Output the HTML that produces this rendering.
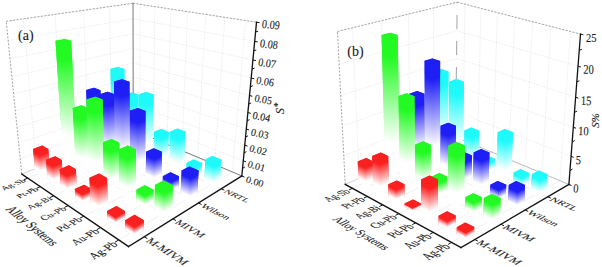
<!DOCTYPE html>
<html><head><meta charset="utf-8"><style>
html,body{margin:0;padding:0;background:#fff;}
svg{display:block;}
.gw{stroke:#e0e0e0;stroke-width:0.6;stroke-dasharray:1.5 1.2;fill:none}
.gf{stroke:#e6e6e6;stroke-width:0.6;fill:none}
.gf2{stroke:#c8c8c8;stroke-width:0.8;fill:none}
.ed{stroke:#999;stroke-width:0.9;stroke-dasharray:2 1.5;fill:none}
.bk{stroke:#6a6a6a;stroke-width:0.9;fill:none}
.bkl{stroke:#aaa;stroke-width:0.8;fill:none}
.bkd{stroke:#8a8a8a;stroke-width:0.8;fill:none;stroke-dasharray:14 12;stroke-dashoffset:-4}
.ax{stroke:#111;stroke-width:1.3;fill:none;stroke-linecap:square}
.tk{stroke:#111;stroke-width:1;fill:none}
text{font-family:"Liberation Serif",serif;fill:#1a1a1a;stroke:#1a1a1a;stroke-width:0.1;}
</style></head><body>
<svg width="602" height="267" viewBox="0 0 602 267">
<defs><linearGradient id="g1" gradientUnits="userSpaceOnUse" x1="0" y1="71.02" x2="0" y2="144.13"><stop offset="0.15" stop-color="rgb(30,250,250)"/><stop offset="0.78" stop-color="#fff"/></linearGradient><linearGradient id="g2" gradientUnits="userSpaceOnUse" x1="110.53" y1="69.00" x2="90.31" y2="134.54"><stop offset="0.15" stop-color="rgb(30,250,250)"/><stop offset="0.78" stop-color="#fff"/></linearGradient><linearGradient id="g3" gradientUnits="userSpaceOnUse" x1="117.09" y1="71.02" x2="135.51" y2="139.46"><stop offset="0.15" stop-color="rgb(30,250,250)"/><stop offset="0.78" stop-color="#fff"/></linearGradient><linearGradient id="g4" gradientUnits="userSpaceOnUse" x1="0" y1="92.49" x2="0" y2="153.75"><stop offset="0.15" stop-color="rgb(30,30,245)"/><stop offset="0.78" stop-color="#fff"/></linearGradient><linearGradient id="g5" gradientUnits="userSpaceOnUse" x1="86.20" y1="90.07" x2="66.56" y2="142.27"><stop offset="0.15" stop-color="rgb(30,30,245)"/><stop offset="0.78" stop-color="#fff"/></linearGradient><linearGradient id="g6" gradientUnits="userSpaceOnUse" x1="92.62" y1="92.49" x2="109.50" y2="149.38"><stop offset="0.15" stop-color="rgb(30,30,245)"/><stop offset="0.78" stop-color="#fff"/></linearGradient><linearGradient id="g7" gradientUnits="userSpaceOnUse" x1="0" y1="97.15" x2="0" y2="150.43"><stop offset="0.15" stop-color="rgb(30,250,250)"/><stop offset="0.78" stop-color="#fff"/></linearGradient><linearGradient id="g8" gradientUnits="userSpaceOnUse" x1="124.60" y1="94.72" x2="108.06" y2="141.32"><stop offset="0.15" stop-color="rgb(30,250,250)"/><stop offset="0.78" stop-color="#fff"/></linearGradient><linearGradient id="g9" gradientUnits="userSpaceOnUse" x1="131.46" y1="97.15" x2="147.29" y2="145.28"><stop offset="0.15" stop-color="rgb(30,250,250)"/><stop offset="0.78" stop-color="#fff"/></linearGradient><linearGradient id="g10" gradientUnits="userSpaceOnUse" x1="0" y1="42.54" x2="0" y2="164.28"><stop offset="0.15" stop-color="rgb(35,250,35)"/><stop offset="0.78" stop-color="#fff"/></linearGradient><linearGradient id="g11" gradientUnits="userSpaceOnUse" x1="55.51" y1="40.70" x2="24.91" y2="150.11"><stop offset="0.15" stop-color="rgb(35,250,35)"/><stop offset="0.78" stop-color="#fff"/></linearGradient><linearGradient id="g12" gradientUnits="userSpaceOnUse" x1="62.07" y1="42.54" x2="85.03" y2="161.22"><stop offset="0.15" stop-color="rgb(35,250,35)"/><stop offset="0.78" stop-color="#fff"/></linearGradient><linearGradient id="g13" gradientUnits="userSpaceOnUse" x1="0" y1="96.76" x2="0" y2="160.64"><stop offset="0.15" stop-color="rgb(30,30,245)"/><stop offset="0.78" stop-color="#fff"/></linearGradient><linearGradient id="g14" gradientUnits="userSpaceOnUse" x1="99.77" y1="94.20" x2="79.31" y2="148.93"><stop offset="0.15" stop-color="rgb(30,30,245)"/><stop offset="0.78" stop-color="#fff"/></linearGradient><linearGradient id="g15" gradientUnits="userSpaceOnUse" x1="106.62" y1="96.76" x2="124.95" y2="155.39"><stop offset="0.15" stop-color="rgb(30,30,245)"/><stop offset="0.78" stop-color="#fff"/></linearGradient><linearGradient id="g16" gradientUnits="userSpaceOnUse" x1="0" y1="96.87" x2="0" y2="157.11"><stop offset="0.15" stop-color="rgb(30,250,250)"/><stop offset="0.78" stop-color="#fff"/></linearGradient><linearGradient id="g17" gradientUnits="userSpaceOnUse" x1="139.13" y1="94.36" x2="120.84" y2="147.64"><stop offset="0.15" stop-color="rgb(30,250,250)"/><stop offset="0.78" stop-color="#fff"/></linearGradient><linearGradient id="g18" gradientUnits="userSpaceOnUse" x1="146.46" y1="96.87" x2="164.70" y2="150.75"><stop offset="0.15" stop-color="rgb(30,250,250)"/><stop offset="0.78" stop-color="#fff"/></linearGradient><linearGradient id="g19" gradientUnits="userSpaceOnUse" x1="0" y1="152.44" x2="0" y2="175.86"><stop offset="0.15" stop-color="rgb(250,32,32)"/><stop offset="0.78" stop-color="#fff"/></linearGradient><linearGradient id="g20" gradientUnits="userSpaceOnUse" x1="33.09" y1="148.91" x2="23.51" y2="165.17"><stop offset="0.15" stop-color="rgb(250,32,32)"/><stop offset="0.78" stop-color="#fff"/></linearGradient><linearGradient id="g21" gradientUnits="userSpaceOnUse" x1="39.08" y1="152.44" x2="46.95" y2="173.68"><stop offset="0.15" stop-color="rgb(250,32,32)"/><stop offset="0.78" stop-color="#fff"/></linearGradient><linearGradient id="g22" gradientUnits="userSpaceOnUse" x1="0" y1="110.84" x2="0" y2="171.85"><stop offset="0.15" stop-color="rgb(35,250,35)"/><stop offset="0.78" stop-color="#fff"/></linearGradient><linearGradient id="g23" gradientUnits="userSpaceOnUse" x1="72.77" y1="107.93" x2="51.34" y2="157.52"><stop offset="0.15" stop-color="rgb(35,250,35)"/><stop offset="0.78" stop-color="#fff"/></linearGradient><linearGradient id="g24" gradientUnits="userSpaceOnUse" x1="79.50" y1="110.84" x2="97.61" y2="166.94"><stop offset="0.15" stop-color="rgb(35,250,35)"/><stop offset="0.78" stop-color="#fff"/></linearGradient><linearGradient id="g25" gradientUnits="userSpaceOnUse" x1="0" y1="84.11" x2="0" y2="167.98"><stop offset="0.15" stop-color="rgb(30,30,245)"/><stop offset="0.78" stop-color="#fff"/></linearGradient><linearGradient id="g26" gradientUnits="userSpaceOnUse" x1="113.98" y1="81.62" x2="89.24" y2="155.64"><stop offset="0.15" stop-color="rgb(30,30,245)"/><stop offset="0.78" stop-color="#fff"/></linearGradient><linearGradient id="g27" gradientUnits="userSpaceOnUse" x1="121.40" y1="84.11" x2="144.37" y2="161.44"><stop offset="0.15" stop-color="rgb(30,30,245)"/><stop offset="0.78" stop-color="#fff"/></linearGradient><linearGradient id="g28" gradientUnits="userSpaceOnUse" x1="0" y1="134.92" x2="0" y2="164.22"><stop offset="0.15" stop-color="rgb(30,250,250)"/><stop offset="0.78" stop-color="#fff"/></linearGradient><linearGradient id="g29" gradientUnits="userSpaceOnUse" x1="154.14" y1="131.81" x2="143.93" y2="156.77"><stop offset="0.15" stop-color="rgb(30,250,250)"/><stop offset="0.78" stop-color="#fff"/></linearGradient><linearGradient id="g30" gradientUnits="userSpaceOnUse" x1="161.73" y1="134.92" x2="172.26" y2="159.40"><stop offset="0.15" stop-color="rgb(30,250,250)"/><stop offset="0.78" stop-color="#fff"/></linearGradient><linearGradient id="g31" gradientUnits="userSpaceOnUse" x1="0" y1="163.69" x2="0" y2="184.22"><stop offset="0.15" stop-color="rgb(250,32,32)"/><stop offset="0.78" stop-color="#fff"/></linearGradient><linearGradient id="g32" gradientUnits="userSpaceOnUse" x1="46.05" y1="159.87" x2="37.55" y2="174.10"><stop offset="0.15" stop-color="rgb(250,32,32)"/><stop offset="0.78" stop-color="#fff"/></linearGradient><linearGradient id="g33" gradientUnits="userSpaceOnUse" x1="52.44" y1="163.69" x2="59.71" y2="181.93"><stop offset="0.15" stop-color="rgb(250,32,32)"/><stop offset="0.78" stop-color="#fff"/></linearGradient><linearGradient id="g34" gradientUnits="userSpaceOnUse" x1="0" y1="102.41" x2="0" y2="179.94"><stop offset="0.15" stop-color="rgb(35,250,35)"/><stop offset="0.78" stop-color="#fff"/></linearGradient><linearGradient id="g35" gradientUnits="userSpaceOnUse" x1="86.45" y1="99.51" x2="60.59" y2="164.44"><stop offset="0.15" stop-color="rgb(35,250,35)"/><stop offset="0.78" stop-color="#fff"/></linearGradient><linearGradient id="g36" gradientUnits="userSpaceOnUse" x1="93.74" y1="102.41" x2="116.24" y2="173.69"><stop offset="0.15" stop-color="rgb(35,250,35)"/><stop offset="0.78" stop-color="#fff"/></linearGradient><linearGradient id="g37" gradientUnits="userSpaceOnUse" x1="0" y1="113.82" x2="0" y2="175.79"><stop offset="0.15" stop-color="rgb(30,30,245)"/><stop offset="0.78" stop-color="#fff"/></linearGradient><linearGradient id="g38" gradientUnits="userSpaceOnUse" x1="129.84" y1="110.81" x2="109.35" y2="163.97"><stop offset="0.15" stop-color="rgb(30,30,245)"/><stop offset="0.78" stop-color="#fff"/></linearGradient><linearGradient id="g39" gradientUnits="userSpaceOnUse" x1="137.63" y1="113.82" x2="157.65" y2="168.41"><stop offset="0.15" stop-color="rgb(30,30,245)"/><stop offset="0.78" stop-color="#fff"/></linearGradient><linearGradient id="g40" gradientUnits="userSpaceOnUse" x1="0" y1="134.76" x2="0" y2="171.79"><stop offset="0.15" stop-color="rgb(30,250,250)"/><stop offset="0.78" stop-color="#fff"/></linearGradient><linearGradient id="g41" gradientUnits="userSpaceOnUse" x1="170.44" y1="131.53" x2="157.79" y2="163.53"><stop offset="0.15" stop-color="rgb(30,250,250)"/><stop offset="0.78" stop-color="#fff"/></linearGradient><linearGradient id="g42" gradientUnits="userSpaceOnUse" x1="178.60" y1="134.76" x2="192.14" y2="165.14"><stop offset="0.15" stop-color="rgb(30,250,250)"/><stop offset="0.78" stop-color="#fff"/></linearGradient><linearGradient id="g43" gradientUnits="userSpaceOnUse" x1="0" y1="173.26" x2="0" y2="193.18"><stop offset="0.15" stop-color="rgb(250,32,32)"/><stop offset="0.78" stop-color="#fff"/></linearGradient><linearGradient id="g44" gradientUnits="userSpaceOnUse" x1="59.69" y1="169.14" x2="51.36" y2="183.00"><stop offset="0.15" stop-color="rgb(250,32,32)"/><stop offset="0.78" stop-color="#fff"/></linearGradient><linearGradient id="g45" gradientUnits="userSpaceOnUse" x1="66.54" y1="173.26" x2="73.90" y2="190.56"><stop offset="0.15" stop-color="rgb(250,32,32)"/><stop offset="0.78" stop-color="#fff"/></linearGradient><linearGradient id="g46" gradientUnits="userSpaceOnUse" x1="0" y1="145.98" x2="0" y2="188.58"><stop offset="0.15" stop-color="rgb(35,250,35)"/><stop offset="0.78" stop-color="#fff"/></linearGradient><linearGradient id="g47" gradientUnits="userSpaceOnUse" x1="102.96" y1="142.32" x2="86.76" y2="176.01"><stop offset="0.15" stop-color="rgb(35,250,35)"/><stop offset="0.78" stop-color="#fff"/></linearGradient><linearGradient id="g48" gradientUnits="userSpaceOnUse" x1="110.57" y1="145.98" x2="125.63" y2="182.80"><stop offset="0.15" stop-color="rgb(35,250,35)"/><stop offset="0.78" stop-color="#fff"/></linearGradient><linearGradient id="g49" gradientUnits="userSpaceOnUse" x1="0" y1="155.38" x2="0" y2="184.15"><stop offset="0.15" stop-color="rgb(30,30,245)"/><stop offset="0.78" stop-color="#fff"/></linearGradient><linearGradient id="g50" gradientUnits="userSpaceOnUse" x1="146.06" y1="151.68" x2="135.27" y2="175.26"><stop offset="0.15" stop-color="rgb(30,30,245)"/><stop offset="0.78" stop-color="#fff"/></linearGradient><linearGradient id="g51" gradientUnits="userSpaceOnUse" x1="154.17" y1="155.38" x2="165.09" y2="178.83"><stop offset="0.15" stop-color="rgb(30,30,245)"/><stop offset="0.78" stop-color="#fff"/></linearGradient><linearGradient id="g52" gradientUnits="userSpaceOnUse" x1="0" y1="166.72" x2="0" y2="179.86"><stop offset="0.15" stop-color="rgb(30,250,250)"/><stop offset="0.78" stop-color="#fff"/></linearGradient><linearGradient id="g53" gradientUnits="userSpaceOnUse" x1="186.62" y1="162.94" x2="181.72" y2="174.01"><stop offset="0.15" stop-color="rgb(30,250,250)"/><stop offset="0.78" stop-color="#fff"/></linearGradient><linearGradient id="g54" gradientUnits="userSpaceOnUse" x1="195.15" y1="166.72" x2="200.46" y2="176.64"><stop offset="0.15" stop-color="rgb(30,250,250)"/><stop offset="0.78" stop-color="#fff"/></linearGradient><linearGradient id="g55" gradientUnits="userSpaceOnUse" x1="0" y1="193.55" x2="0" y2="202.78"><stop offset="0.15" stop-color="rgb(250,32,32)"/><stop offset="0.78" stop-color="#fff"/></linearGradient><linearGradient id="g56" gradientUnits="userSpaceOnUse" x1="74.83" y1="188.97" x2="70.87" y2="195.29"><stop offset="0.15" stop-color="rgb(250,32,32)"/><stop offset="0.78" stop-color="#fff"/></linearGradient><linearGradient id="g57" gradientUnits="userSpaceOnUse" x1="82.13" y1="193.55" x2="85.79" y2="201.26"><stop offset="0.15" stop-color="rgb(250,32,32)"/><stop offset="0.78" stop-color="#fff"/></linearGradient><linearGradient id="g58" gradientUnits="userSpaceOnUse" x1="0" y1="153.08" x2="0" y2="197.85"><stop offset="0.15" stop-color="rgb(35,250,35)"/><stop offset="0.78" stop-color="#fff"/></linearGradient><linearGradient id="g59" gradientUnits="userSpaceOnUse" x1="119.10" y1="149.16" x2="102.02" y2="184.84"><stop offset="0.15" stop-color="rgb(35,250,35)"/><stop offset="0.78" stop-color="#fff"/></linearGradient><linearGradient id="g60" gradientUnits="userSpaceOnUse" x1="127.29" y1="153.08" x2="143.76" y2="190.79"><stop offset="0.15" stop-color="rgb(35,250,35)"/><stop offset="0.78" stop-color="#fff"/></linearGradient><linearGradient id="g61" gradientUnits="userSpaceOnUse" x1="0" y1="180.34" x2="0" y2="193.09"><stop offset="0.15" stop-color="rgb(30,30,245)"/><stop offset="0.78" stop-color="#fff"/></linearGradient><linearGradient id="g62" gradientUnits="userSpaceOnUse" x1="162.86" y1="176.13" x2="157.82" y2="186.40"><stop offset="0.15" stop-color="rgb(30,30,245)"/><stop offset="0.78" stop-color="#fff"/></linearGradient><linearGradient id="g63" gradientUnits="userSpaceOnUse" x1="171.43" y1="180.34" x2="176.65" y2="190.06"><stop offset="0.15" stop-color="rgb(30,30,245)"/><stop offset="0.78" stop-color="#fff"/></linearGradient><linearGradient id="g64" gradientUnits="userSpaceOnUse" x1="0" y1="163.51" x2="0" y2="188.50"><stop offset="0.15" stop-color="rgb(30,250,250)"/><stop offset="0.78" stop-color="#fff"/></linearGradient><linearGradient id="g65" gradientUnits="userSpaceOnUse" x1="205.41" y1="159.62" x2="196.34" y2="181.11"><stop offset="0.15" stop-color="rgb(30,250,250)"/><stop offset="0.78" stop-color="#fff"/></linearGradient><linearGradient id="g66" gradientUnits="userSpaceOnUse" x1="214.64" y1="163.51" x2="224.81" y2="181.91"><stop offset="0.15" stop-color="rgb(30,250,250)"/><stop offset="0.78" stop-color="#fff"/></linearGradient><linearGradient id="g67" gradientUnits="userSpaceOnUse" x1="0" y1="182.46" x2="0" y2="213.12"><stop offset="0.15" stop-color="rgb(250,32,32)"/><stop offset="0.78" stop-color="#fff"/></linearGradient><linearGradient id="g68" gradientUnits="userSpaceOnUse" x1="89.48" y1="177.82" x2="76.68" y2="199.93"><stop offset="0.15" stop-color="rgb(250,32,32)"/><stop offset="0.78" stop-color="#fff"/></linearGradient><linearGradient id="g69" gradientUnits="userSpaceOnUse" x1="97.49" y1="182.46" x2="109.43" y2="208.03"><stop offset="0.15" stop-color="rgb(250,32,32)"/><stop offset="0.78" stop-color="#fff"/></linearGradient><linearGradient id="g70" gradientUnits="userSpaceOnUse" x1="0" y1="194.37" x2="0" y2="207.81"><stop offset="0.15" stop-color="rgb(35,250,35)"/><stop offset="0.78" stop-color="#fff"/></linearGradient><linearGradient id="g71" gradientUnits="userSpaceOnUse" x1="136.47" y1="189.68" x2="130.89" y2="199.89"><stop offset="0.15" stop-color="rgb(35,250,35)"/><stop offset="0.78" stop-color="#fff"/></linearGradient><linearGradient id="g72" gradientUnits="userSpaceOnUse" x1="145.05" y1="194.37" x2="150.63" y2="204.75"><stop offset="0.15" stop-color="rgb(35,250,35)"/><stop offset="0.78" stop-color="#fff"/></linearGradient><linearGradient id="g73" gradientUnits="userSpaceOnUse" x1="0" y1="174.74" x2="0" y2="202.69"><stop offset="0.15" stop-color="rgb(30,30,245)"/><stop offset="0.78" stop-color="#fff"/></linearGradient><linearGradient id="g74" gradientUnits="userSpaceOnUse" x1="181.65" y1="170.43" x2="170.96" y2="193.58"><stop offset="0.15" stop-color="rgb(30,30,245)"/><stop offset="0.78" stop-color="#fff"/></linearGradient><linearGradient id="g75" gradientUnits="userSpaceOnUse" x1="191.00" y1="174.74" x2="202.46" y2="195.64"><stop offset="0.15" stop-color="rgb(30,30,245)"/><stop offset="0.78" stop-color="#fff"/></linearGradient><linearGradient id="g76" gradientUnits="userSpaceOnUse" x1="0" y1="216.45" x2="0" y2="224.28"><stop offset="0.15" stop-color="rgb(250,32,32)"/><stop offset="0.78" stop-color="#fff"/></linearGradient><linearGradient id="g77" gradientUnits="userSpaceOnUse" x1="107.11" y1="211.09" x2="103.68" y2="216.52"><stop offset="0.15" stop-color="rgb(250,32,32)"/><stop offset="0.78" stop-color="#fff"/></linearGradient><linearGradient id="g78" gradientUnits="userSpaceOnUse" x1="115.60" y1="216.45" x2="118.93" y2="222.53"><stop offset="0.15" stop-color="rgb(250,32,32)"/><stop offset="0.78" stop-color="#fff"/></linearGradient><linearGradient id="g79" gradientUnits="userSpaceOnUse" x1="0" y1="189.97" x2="0" y2="218.54"><stop offset="0.15" stop-color="rgb(35,250,35)"/><stop offset="0.78" stop-color="#fff"/></linearGradient><linearGradient id="g80" gradientUnits="userSpaceOnUse" x1="154.97" y1="185.12" x2="143.37" y2="207.55"><stop offset="0.15" stop-color="rgb(35,250,35)"/><stop offset="0.78" stop-color="#fff"/></linearGradient><linearGradient id="g81" gradientUnits="userSpaceOnUse" x1="164.36" y1="189.97" x2="176.24" y2="211.59"><stop offset="0.15" stop-color="rgb(35,250,35)"/><stop offset="0.78" stop-color="#fff"/></linearGradient><linearGradient id="g82" gradientUnits="userSpaceOnUse" x1="0" y1="225.95" x2="0" y2="236.36"><stop offset="0.15" stop-color="rgb(250,32,32)"/><stop offset="0.78" stop-color="#fff"/></linearGradient><linearGradient id="g83" gradientUnits="userSpaceOnUse" x1="125.14" y1="220.17" x2="120.55" y2="227.50"><stop offset="0.15" stop-color="rgb(250,32,32)"/><stop offset="0.78" stop-color="#fff"/></linearGradient><linearGradient id="g84" gradientUnits="userSpaceOnUse" x1="134.36" y1="225.95" x2="138.91" y2="233.68"><stop offset="0.15" stop-color="rgb(250,32,32)"/><stop offset="0.78" stop-color="#fff"/></linearGradient><linearGradient id="g85" gradientUnits="userSpaceOnUse" x1="0" y1="73.84" x2="0" y2="152.71"><stop offset="0.15" stop-color="rgb(30,250,250)"/><stop offset="0.78" stop-color="#fff"/></linearGradient><linearGradient id="g86" gradientUnits="userSpaceOnUse" x1="433.88" y1="71.28" x2="409.47" y2="141.06"><stop offset="0.15" stop-color="rgb(30,250,250)"/><stop offset="0.78" stop-color="#fff"/></linearGradient><linearGradient id="g87" gradientUnits="userSpaceOnUse" x1="441.19" y1="73.84" x2="464.95" y2="144.63"><stop offset="0.15" stop-color="rgb(30,250,250)"/><stop offset="0.78" stop-color="#fff"/></linearGradient><linearGradient id="g88" gradientUnits="userSpaceOnUse" x1="0" y1="96.50" x2="0" y2="163.09"><stop offset="0.15" stop-color="rgb(30,30,245)"/><stop offset="0.78" stop-color="#fff"/></linearGradient><linearGradient id="g89" gradientUnits="userSpaceOnUse" x1="409.49" y1="93.68" x2="387.29" y2="150.82"><stop offset="0.15" stop-color="rgb(30,30,245)"/><stop offset="0.78" stop-color="#fff"/></linearGradient><linearGradient id="g90" gradientUnits="userSpaceOnUse" x1="416.76" y1="96.50" x2="437.80" y2="155.85"><stop offset="0.15" stop-color="rgb(30,30,245)"/><stop offset="0.78" stop-color="#fff"/></linearGradient><linearGradient id="g91" gradientUnits="userSpaceOnUse" x1="0" y1="84.32" x2="0" y2="159.37"><stop offset="0.15" stop-color="rgb(30,250,250)"/><stop offset="0.78" stop-color="#fff"/></linearGradient><linearGradient id="g92" gradientUnits="userSpaceOnUse" x1="449.22" y1="81.63" x2="425.61" y2="147.97"><stop offset="0.15" stop-color="rgb(30,250,250)"/><stop offset="0.78" stop-color="#fff"/></linearGradient><linearGradient id="g93" gradientUnits="userSpaceOnUse" x1="456.78" y1="84.32" x2="480.45" y2="150.58"><stop offset="0.15" stop-color="rgb(30,250,250)"/><stop offset="0.78" stop-color="#fff"/></linearGradient><linearGradient id="g94" gradientUnits="userSpaceOnUse" x1="0" y1="37.39" x2="0" y2="174.15"><stop offset="0.15" stop-color="rgb(35,250,35)"/><stop offset="0.78" stop-color="#fff"/></linearGradient><linearGradient id="g95" gradientUnits="userSpaceOnUse" x1="381.58" y1="34.94" x2="341.91" y2="156.47"><stop offset="0.15" stop-color="rgb(35,250,35)"/><stop offset="0.78" stop-color="#fff"/></linearGradient><linearGradient id="g96" gradientUnits="userSpaceOnUse" x1="389.11" y1="37.39" x2="423.49" y2="165.81"><stop offset="0.15" stop-color="rgb(35,250,35)"/><stop offset="0.78" stop-color="#fff"/></linearGradient><linearGradient id="g97" gradientUnits="userSpaceOnUse" x1="0" y1="63.47" x2="0" y2="170.16"><stop offset="0.15" stop-color="rgb(30,30,245)"/><stop offset="0.78" stop-color="#fff"/></linearGradient><linearGradient id="g98" gradientUnits="userSpaceOnUse" x1="424.59" y1="60.84" x2="392.30" y2="155.54"><stop offset="0.15" stop-color="rgb(30,30,245)"/><stop offset="0.78" stop-color="#fff"/></linearGradient><linearGradient id="g99" gradientUnits="userSpaceOnUse" x1="432.30" y1="63.47" x2="463.11" y2="160.40"><stop offset="0.15" stop-color="rgb(30,30,245)"/><stop offset="0.78" stop-color="#fff"/></linearGradient><linearGradient id="g100" gradientUnits="userSpaceOnUse" x1="0" y1="133.72" x2="0" y2="166.28"><stop offset="0.15" stop-color="rgb(30,250,250)"/><stop offset="0.78" stop-color="#fff"/></linearGradient><linearGradient id="g101" gradientUnits="userSpaceOnUse" x1="464.40" y1="130.60" x2="453.03" y2="158.53"><stop offset="0.15" stop-color="rgb(30,250,250)"/><stop offset="0.78" stop-color="#fff"/></linearGradient><linearGradient id="g102" gradientUnits="userSpaceOnUse" x1="472.06" y1="133.72" x2="483.85" y2="160.86"><stop offset="0.15" stop-color="rgb(30,250,250)"/><stop offset="0.78" stop-color="#fff"/></linearGradient><linearGradient id="g103" gradientUnits="userSpaceOnUse" x1="0" y1="165.07" x2="0" y2="185.96"><stop offset="0.15" stop-color="rgb(250,32,32)"/><stop offset="0.78" stop-color="#fff"/></linearGradient><linearGradient id="g104" gradientUnits="userSpaceOnUse" x1="357.72" y1="161.48" x2="349.54" y2="177.63"><stop offset="0.15" stop-color="rgb(250,32,32)"/><stop offset="0.78" stop-color="#fff"/></linearGradient><linearGradient id="g105" gradientUnits="userSpaceOnUse" x1="364.79" y1="165.07" x2="372.32" y2="183.17"><stop offset="0.15" stop-color="rgb(250,32,32)"/><stop offset="0.78" stop-color="#fff"/></linearGradient><linearGradient id="g106" gradientUnits="userSpaceOnUse" x1="0" y1="99.09" x2="0" y2="181.67"><stop offset="0.15" stop-color="rgb(35,250,35)"/><stop offset="0.78" stop-color="#fff"/></linearGradient><linearGradient id="g107" gradientUnits="userSpaceOnUse" x1="398.51" y1="96.06" x2="370.61" y2="166.32"><stop offset="0.15" stop-color="rgb(35,250,35)"/><stop offset="0.78" stop-color="#fff"/></linearGradient><linearGradient id="g108" gradientUnits="userSpaceOnUse" x1="406.12" y1="99.09" x2="432.18" y2="172.91"><stop offset="0.15" stop-color="rgb(35,250,35)"/><stop offset="0.78" stop-color="#fff"/></linearGradient><linearGradient id="g109" gradientUnits="userSpaceOnUse" x1="0" y1="128.98" x2="0" y2="177.50"><stop offset="0.15" stop-color="rgb(30,30,245)"/><stop offset="0.78" stop-color="#fff"/></linearGradient><linearGradient id="g110" gradientUnits="userSpaceOnUse" x1="440.60" y1="125.78" x2="423.59" y2="166.99"><stop offset="0.15" stop-color="rgb(30,30,245)"/><stop offset="0.78" stop-color="#fff"/></linearGradient><linearGradient id="g111" gradientUnits="userSpaceOnUse" x1="448.37" y1="128.98" x2="465.45" y2="170.26"><stop offset="0.15" stop-color="rgb(30,30,245)"/><stop offset="0.78" stop-color="#fff"/></linearGradient><linearGradient id="g112" gradientUnits="userSpaceOnUse" x1="0" y1="162.16" x2="0" y2="173.44"><stop offset="0.15" stop-color="rgb(30,250,250)"/><stop offset="0.78" stop-color="#fff"/></linearGradient><linearGradient id="g113" gradientUnits="userSpaceOnUse" x1="479.96" y1="158.77" x2="475.83" y2="168.31"><stop offset="0.15" stop-color="rgb(30,250,250)"/><stop offset="0.78" stop-color="#fff"/></linearGradient><linearGradient id="g114" gradientUnits="userSpaceOnUse" x1="487.81" y1="162.16" x2="492.18" y2="171.16"><stop offset="0.15" stop-color="rgb(30,250,250)"/><stop offset="0.78" stop-color="#fff"/></linearGradient><linearGradient id="g115" gradientUnits="userSpaceOnUse" x1="0" y1="159.55" x2="0" y2="193.97"><stop offset="0.15" stop-color="rgb(250,32,32)"/><stop offset="0.78" stop-color="#fff"/></linearGradient><linearGradient id="g116" gradientUnits="userSpaceOnUse" x1="372.16" y1="155.92" x2="358.90" y2="183.01"><stop offset="0.15" stop-color="rgb(250,32,32)"/><stop offset="0.78" stop-color="#fff"/></linearGradient><linearGradient id="g117" gradientUnits="userSpaceOnUse" x1="379.57" y1="159.55" x2="391.95" y2="189.26"><stop offset="0.15" stop-color="rgb(250,32,32)"/><stop offset="0.78" stop-color="#fff"/></linearGradient><linearGradient id="g118" gradientUnits="userSpaceOnUse" x1="0" y1="148.15" x2="0" y2="189.48"><stop offset="0.15" stop-color="rgb(35,250,35)"/><stop offset="0.78" stop-color="#fff"/></linearGradient><linearGradient id="g119" gradientUnits="userSpaceOnUse" x1="414.99" y1="144.66" x2="399.72" y2="178.64"><stop offset="0.15" stop-color="rgb(35,250,35)"/><stop offset="0.78" stop-color="#fff"/></linearGradient><linearGradient id="g120" gradientUnits="userSpaceOnUse" x1="422.74" y1="148.15" x2="437.66" y2="183.25"><stop offset="0.15" stop-color="rgb(35,250,35)"/><stop offset="0.78" stop-color="#fff"/></linearGradient><linearGradient id="g121" gradientUnits="userSpaceOnUse" x1="0" y1="158.87" x2="0" y2="185.12"><stop offset="0.15" stop-color="rgb(30,30,245)"/><stop offset="0.78" stop-color="#fff"/></linearGradient><linearGradient id="g122" gradientUnits="userSpaceOnUse" x1="456.65" y1="155.37" x2="446.99" y2="177.32"><stop offset="0.15" stop-color="rgb(30,30,245)"/><stop offset="0.78" stop-color="#fff"/></linearGradient><linearGradient id="g123" gradientUnits="userSpaceOnUse" x1="464.62" y1="158.87" x2="474.57" y2="180.28"><stop offset="0.15" stop-color="rgb(30,30,245)"/><stop offset="0.78" stop-color="#fff"/></linearGradient><linearGradient id="g124" gradientUnits="userSpaceOnUse" x1="0" y1="135.53" x2="0" y2="180.88"><stop offset="0.15" stop-color="rgb(30,250,250)"/><stop offset="0.78" stop-color="#fff"/></linearGradient><linearGradient id="g125" gradientUnits="userSpaceOnUse" x1="497.68" y1="132.25" x2="482.12" y2="171.78"><stop offset="0.15" stop-color="rgb(30,250,250)"/><stop offset="0.78" stop-color="#fff"/></linearGradient><linearGradient id="g126" gradientUnits="userSpaceOnUse" x1="506.00" y1="135.53" x2="522.88" y2="172.30"><stop offset="0.15" stop-color="rgb(30,250,250)"/><stop offset="0.78" stop-color="#fff"/></linearGradient><linearGradient id="g127" gradientUnits="userSpaceOnUse" x1="0" y1="188.19" x2="0" y2="202.31"><stop offset="0.15" stop-color="rgb(250,32,32)"/><stop offset="0.78" stop-color="#fff"/></linearGradient><linearGradient id="g128" gradientUnits="userSpaceOnUse" x1="388.31" y1="184.25" x2="382.68" y2="195.17"><stop offset="0.15" stop-color="rgb(250,32,32)"/><stop offset="0.78" stop-color="#fff"/></linearGradient><linearGradient id="g129" gradientUnits="userSpaceOnUse" x1="395.95" y1="188.19" x2="401.37" y2="199.95"><stop offset="0.15" stop-color="rgb(250,32,32)"/><stop offset="0.78" stop-color="#fff"/></linearGradient><linearGradient id="g130" gradientUnits="userSpaceOnUse" x1="0" y1="180.64" x2="0" y2="197.61"><stop offset="0.15" stop-color="rgb(35,250,35)"/><stop offset="0.78" stop-color="#fff"/></linearGradient><linearGradient id="g131" gradientUnits="userSpaceOnUse" x1="431.34" y1="176.82" x2="424.78" y2="190.51"><stop offset="0.15" stop-color="rgb(35,250,35)"/><stop offset="0.78" stop-color="#fff"/></linearGradient><linearGradient id="g132" gradientUnits="userSpaceOnUse" x1="439.29" y1="180.64" x2="445.89" y2="194.43"><stop offset="0.15" stop-color="rgb(35,250,35)"/><stop offset="0.78" stop-color="#fff"/></linearGradient><linearGradient id="g133" gradientUnits="userSpaceOnUse" x1="0" y1="156.02" x2="0" y2="193.04"><stop offset="0.15" stop-color="rgb(30,30,245)"/><stop offset="0.78" stop-color="#fff"/></linearGradient><linearGradient id="g134" gradientUnits="userSpaceOnUse" x1="473.65" y1="152.45" x2="460.23" y2="183.81"><stop offset="0.15" stop-color="rgb(30,30,245)"/><stop offset="0.78" stop-color="#fff"/></linearGradient><linearGradient id="g135" gradientUnits="userSpaceOnUse" x1="481.99" y1="156.02" x2="496.10" y2="185.90"><stop offset="0.15" stop-color="rgb(30,30,245)"/><stop offset="0.78" stop-color="#fff"/></linearGradient><linearGradient id="g136" gradientUnits="userSpaceOnUse" x1="0" y1="176.53" x2="0" y2="188.61"><stop offset="0.15" stop-color="rgb(30,250,250)"/><stop offset="0.78" stop-color="#fff"/></linearGradient><linearGradient id="g137" gradientUnits="userSpaceOnUse" x1="513.67" y1="172.87" x2="509.22" y2="183.18"><stop offset="0.15" stop-color="rgb(30,250,250)"/><stop offset="0.78" stop-color="#fff"/></linearGradient><linearGradient id="g138" gradientUnits="userSpaceOnUse" x1="522.15" y1="176.53" x2="527.03" y2="185.69"><stop offset="0.15" stop-color="rgb(30,250,250)"/><stop offset="0.78" stop-color="#fff"/></linearGradient><linearGradient id="g139" gradientUnits="userSpaceOnUse" x1="0" y1="207.81" x2="0" y2="210.99"><stop offset="0.15" stop-color="rgb(250,32,32)"/><stop offset="0.78" stop-color="#fff"/></linearGradient><linearGradient id="g140" gradientUnits="userSpaceOnUse" x1="404.58" y1="203.62" x2="403.29" y2="206.07"><stop offset="0.15" stop-color="rgb(250,32,32)"/><stop offset="0.78" stop-color="#fff"/></linearGradient><linearGradient id="g141" gradientUnits="userSpaceOnUse" x1="412.49" y1="207.81" x2="413.77" y2="210.38"><stop offset="0.15" stop-color="rgb(250,32,32)"/><stop offset="0.78" stop-color="#fff"/></linearGradient><linearGradient id="g142" gradientUnits="userSpaceOnUse" x1="0" y1="149.20" x2="0" y2="206.07"><stop offset="0.15" stop-color="rgb(35,250,35)"/><stop offset="0.78" stop-color="#fff"/></linearGradient><linearGradient id="g143" gradientUnits="userSpaceOnUse" x1="448.41" y1="145.54" x2="427.78" y2="193.24"><stop offset="0.15" stop-color="rgb(35,250,35)"/><stop offset="0.78" stop-color="#fff"/></linearGradient><linearGradient id="g144" gradientUnits="userSpaceOnUse" x1="456.88" y1="149.20" x2="477.94" y2="196.34"><stop offset="0.15" stop-color="rgb(35,250,35)"/><stop offset="0.78" stop-color="#fff"/></linearGradient><linearGradient id="g145" gradientUnits="userSpaceOnUse" x1="0" y1="188.62" x2="0" y2="201.29"><stop offset="0.15" stop-color="rgb(30,30,245)"/><stop offset="0.78" stop-color="#fff"/></linearGradient><linearGradient id="g146" gradientUnits="userSpaceOnUse" x1="490.41" y1="184.72" x2="485.59" y2="195.28"><stop offset="0.15" stop-color="rgb(30,30,245)"/><stop offset="0.78" stop-color="#fff"/></linearGradient><linearGradient id="g147" gradientUnits="userSpaceOnUse" x1="498.96" y1="188.62" x2="504.10" y2="198.30"><stop offset="0.15" stop-color="rgb(30,30,245)"/><stop offset="0.78" stop-color="#fff"/></linearGradient><linearGradient id="g148" gradientUnits="userSpaceOnUse" x1="0" y1="177.92" x2="0" y2="196.64"><stop offset="0.15" stop-color="rgb(30,250,250)"/><stop offset="0.78" stop-color="#fff"/></linearGradient><linearGradient id="g149" gradientUnits="userSpaceOnUse" x1="531.88" y1="174.16" x2="525.04" y2="190.28"><stop offset="0.15" stop-color="rgb(30,250,250)"/><stop offset="0.78" stop-color="#fff"/></linearGradient><linearGradient id="g150" gradientUnits="userSpaceOnUse" x1="540.74" y1="177.92" x2="548.37" y2="191.82"><stop offset="0.15" stop-color="rgb(30,250,250)"/><stop offset="0.78" stop-color="#fff"/></linearGradient><linearGradient id="g151" gradientUnits="userSpaceOnUse" x1="0" y1="183.52" x2="0" y2="220.04"><stop offset="0.15" stop-color="rgb(250,32,32)"/><stop offset="0.78" stop-color="#fff"/></linearGradient><linearGradient id="g152" gradientUnits="userSpaceOnUse" x1="421.00" y1="179.41" x2="406.75" y2="208.55"><stop offset="0.15" stop-color="rgb(250,32,32)"/><stop offset="0.78" stop-color="#fff"/></linearGradient><linearGradient id="g153" gradientUnits="userSpaceOnUse" x1="429.40" y1="183.52" x2="443.59" y2="213.34"><stop offset="0.15" stop-color="rgb(250,32,32)"/><stop offset="0.78" stop-color="#fff"/></linearGradient><linearGradient id="g154" gradientUnits="userSpaceOnUse" x1="0" y1="201.47" x2="0" y2="214.88"><stop offset="0.15" stop-color="rgb(35,250,35)"/><stop offset="0.78" stop-color="#fff"/></linearGradient><linearGradient id="g155" gradientUnits="userSpaceOnUse" x1="465.46" y1="197.29" x2="460.20" y2="208.17"><stop offset="0.15" stop-color="rgb(35,250,35)"/><stop offset="0.78" stop-color="#fff"/></linearGradient><linearGradient id="g156" gradientUnits="userSpaceOnUse" x1="474.08" y1="201.47" x2="479.57" y2="211.80"><stop offset="0.15" stop-color="rgb(35,250,35)"/><stop offset="0.78" stop-color="#fff"/></linearGradient><linearGradient id="g157" gradientUnits="userSpaceOnUse" x1="0" y1="189.02" x2="0" y2="209.87"><stop offset="0.15" stop-color="rgb(30,30,245)"/><stop offset="0.78" stop-color="#fff"/></linearGradient><linearGradient id="g158" gradientUnits="userSpaceOnUse" x1="508.76" y1="185.02" x2="500.90" y2="202.58"><stop offset="0.15" stop-color="rgb(30,30,245)"/><stop offset="0.78" stop-color="#fff"/></linearGradient><linearGradient id="g159" gradientUnits="userSpaceOnUse" x1="517.71" y1="189.02" x2="526.26" y2="204.64"><stop offset="0.15" stop-color="rgb(30,30,245)"/><stop offset="0.78" stop-color="#fff"/></linearGradient><linearGradient id="g160" gradientUnits="userSpaceOnUse" x1="0" y1="220.16" x2="0" y2="229.49"><stop offset="0.15" stop-color="rgb(250,32,32)"/><stop offset="0.78" stop-color="#fff"/></linearGradient><linearGradient id="g161" gradientUnits="userSpaceOnUse" x1="438.63" y1="215.65" x2="434.83" y2="222.93"><stop offset="0.15" stop-color="rgb(250,32,32)"/><stop offset="0.78" stop-color="#fff"/></linearGradient><linearGradient id="g162" gradientUnits="userSpaceOnUse" x1="447.27" y1="220.16" x2="451.14" y2="227.37"><stop offset="0.15" stop-color="rgb(250,32,32)"/><stop offset="0.78" stop-color="#fff"/></linearGradient><linearGradient id="g163" gradientUnits="userSpaceOnUse" x1="0" y1="202.40" x2="0" y2="224.06"><stop offset="0.15" stop-color="rgb(35,250,35)"/><stop offset="0.78" stop-color="#fff"/></linearGradient><linearGradient id="g164" gradientUnits="userSpaceOnUse" x1="483.84" y1="198.11" x2="475.39" y2="215.89"><stop offset="0.15" stop-color="rgb(35,250,35)"/><stop offset="0.78" stop-color="#fff"/></linearGradient><linearGradient id="g165" gradientUnits="userSpaceOnUse" x1="492.87" y1="202.40" x2="501.82" y2="218.76"><stop offset="0.15" stop-color="rgb(35,250,35)"/><stop offset="0.78" stop-color="#fff"/></linearGradient><linearGradient id="g166" gradientUnits="userSpaceOnUse" x1="0" y1="231.90" x2="0" y2="239.35"><stop offset="0.15" stop-color="rgb(250,32,32)"/><stop offset="0.78" stop-color="#fff"/></linearGradient><linearGradient id="g167" gradientUnits="userSpaceOnUse" x1="456.80" y1="227.17" x2="453.74" y2="233.01"><stop offset="0.15" stop-color="rgb(250,32,32)"/><stop offset="0.78" stop-color="#fff"/></linearGradient><linearGradient id="g168" gradientUnits="userSpaceOnUse" x1="465.82" y1="231.90" x2="468.98" y2="237.47"><stop offset="0.15" stop-color="rgb(250,32,32)"/><stop offset="0.78" stop-color="#fff"/></linearGradient></defs>
<rect width="602" height="267" fill="#fff"/>
<g id="pa"><line x1="36.53" y1="168.25" x2="23.40" y2="18.86" class="gw"/><line x1="36.53" y1="168.25" x2="144.21" y2="236.70" class="gf"/><line x1="64.05" y1="157.36" x2="55.07" y2="14.35" class="gw"/><line x1="64.05" y1="157.36" x2="172.90" y2="218.85" class="gf"/><line x1="89.15" y1="147.43" x2="83.62" y2="10.28" class="gw"/><line x1="89.15" y1="147.43" x2="198.41" y2="202.97" class="gf"/><line x1="112.13" y1="138.34" x2="109.49" y2="6.60" class="gw"/><line x1="112.13" y1="138.34" x2="221.25" y2="188.75" class="gf"/><line x1="139.63" y1="132.69" x2="140.12" y2="4.34" class="gw"/><line x1="27.72" y1="178.15" x2="139.63" y2="132.69" class="gf"/><line x1="152.93" y1="138.32" x2="154.96" y2="6.62" class="gw"/><line x1="40.28" y1="186.67" x2="152.93" y2="138.32" class="gf"/><line x1="167.00" y1="144.28" x2="170.75" y2="9.05" class="gw"/><line x1="53.74" y1="195.80" x2="167.00" y2="144.28" class="gf"/><line x1="181.91" y1="150.59" x2="187.60" y2="11.64" class="gw"/><line x1="68.20" y1="205.60" x2="181.91" y2="150.59" class="gf"/><line x1="197.72" y1="157.28" x2="205.59" y2="14.40" class="gw"/><line x1="83.77" y1="216.16" x2="197.72" y2="157.28" class="gf"/><line x1="214.52" y1="164.40" x2="224.87" y2="17.37" class="gw"/><line x1="100.58" y1="227.57" x2="214.52" y2="164.40" class="gf"/><line x1="232.42" y1="171.97" x2="245.57" y2="20.55" class="gw"/><line x1="118.80" y1="239.92" x2="232.42" y2="171.97" class="gf"/><line x1="20.21" y1="158.96" x2="133.22" y2="117.15" class="gw"/><line x1="133.22" y1="117.15" x2="243.26" y2="160.74" class="gw"/><line x1="18.63" y1="143.41" x2="133.20" y2="104.02" class="gw"/><line x1="133.20" y1="104.02" x2="244.76" y2="145.10" class="gw"/><line x1="17.01" y1="127.43" x2="133.18" y2="90.60" class="gw"/><line x1="133.18" y1="90.60" x2="246.30" y2="129.03" class="gw"/><line x1="15.34" y1="110.99" x2="133.16" y2="76.88" class="gw"/><line x1="133.16" y1="76.88" x2="247.88" y2="112.49" class="gw"/><line x1="13.62" y1="94.08" x2="133.13" y2="62.83" class="gw"/><line x1="133.13" y1="62.83" x2="249.50" y2="95.48" class="gw"/><line x1="11.85" y1="76.68" x2="133.11" y2="48.46" class="gw"/><line x1="133.11" y1="48.46" x2="251.18" y2="77.98" class="gw"/><line x1="10.03" y1="58.77" x2="133.08" y2="33.74" class="gw"/><line x1="133.08" y1="33.74" x2="252.90" y2="59.95" class="gw"/><line x1="8.15" y1="40.32" x2="133.06" y2="18.68" class="gw"/><line x1="133.06" y1="18.68" x2="254.68" y2="41.38" class="gw"/><line x1="6.22" y1="21.31" x2="133.03" y2="3.25" class="gw"/><line x1="133.03" y1="3.25" x2="256.51" y2="22.23" class="gw"/><line x1="21.75" y1="174.10" x2="6.22" y2="21.31" class="ed"/><line x1="6.22" y1="21.31" x2="133.03" y2="3.25" class="ed"/><line x1="133.03" y1="3.25" x2="256.51" y2="22.23" class="ed"/><line x1="21.75" y1="174.10" x2="133.25" y2="129.98" class="gf2"/><line x1="133.25" y1="129.98" x2="241.81" y2="175.95" class="bk"/><line x1="133.25" y1="129.98" x2="133.03" y2="3.25" class="bk"/><polygon points="111.99,141.23 118.17,144.13 124.98,141.32 124.34,69.07 117.77,67.10 110.53,69.00" fill="url(#g1)"/><polygon points="111.99,141.23 118.17,144.13 117.09,71.02 110.53,69.00" fill="url(#g2)"/><polygon points="118.17,144.13 124.98,141.32 124.34,69.07 117.09,71.02" fill="url(#g3)"/><polygon points="110.53,69.00 117.09,71.02 124.34,69.07 117.77,67.10" fill="rgb(30,250,250)"/><polygon points="88.67,150.58 94.80,153.75 102.23,150.69 100.48,90.15 94.04,87.81 86.20,90.07" fill="url(#g4)"/><polygon points="88.67,150.58 94.80,153.75 92.62,92.49 86.20,90.07" fill="url(#g5)"/><polygon points="94.80,153.75 102.23,150.69 100.48,90.15 92.62,92.49" fill="url(#g6)"/><polygon points="86.20,90.07 92.62,92.49 100.48,90.15 94.04,87.81" fill="rgb(30,30,245)"/><polygon points="125.07,147.36 131.62,150.43 138.45,147.46 138.60,94.80 131.74,92.44 124.60,94.72" fill="url(#g7)"/><polygon points="125.07,147.36 131.62,150.43 131.46,97.15 124.60,94.72" fill="url(#g8)"/><polygon points="131.62,150.43 138.45,147.46 138.60,94.80 131.46,97.15" fill="url(#g9)"/><polygon points="124.60,94.72 131.46,97.15 138.60,94.80 131.74,92.44" fill="rgb(30,250,250)"/><polygon points="63.17,160.81 69.20,164.28 77.36,160.92 71.20,40.77 64.60,38.99 55.51,40.70" fill="url(#g10)"/><polygon points="63.17,160.81 69.20,164.28 62.07,42.54 55.51,40.70" fill="url(#g11)"/><polygon points="69.20,164.28 77.36,160.92 71.20,40.77 62.07,42.54" fill="url(#g12)"/><polygon points="55.51,40.70 62.07,42.54 71.20,40.77 64.60,38.99" fill="rgb(35,250,35)"/><polygon points="101.64,157.28 108.15,160.64 115.63,157.39 114.54,94.28 107.67,91.80 99.77,94.20" fill="url(#g13)"/><polygon points="101.64,157.28 108.15,160.64 106.62,96.76 99.77,94.20" fill="url(#g14)"/><polygon points="108.15,160.64 115.63,157.39 114.54,94.28 106.62,96.76" fill="url(#g15)"/><polygon points="99.77,94.20 106.62,96.76 114.54,94.28 107.67,91.80" fill="rgb(30,30,245)"/><polygon points="138.94,153.85 145.89,157.11 152.72,153.96 153.64,94.44 146.31,92.00 139.13,94.36" fill="url(#g16)"/><polygon points="138.94,153.85 145.89,157.11 146.46,96.87 139.13,94.36" fill="url(#g17)"/><polygon points="145.89,157.11 152.72,153.96 153.64,94.44 146.46,96.87" fill="url(#g18)"/><polygon points="139.13,94.36 146.46,96.87 153.64,94.44 146.31,92.00" fill="rgb(30,250,250)"/><polygon points="35.16,172.04 41.05,175.86 50.04,172.17 48.27,149.03 42.24,145.61 33.09,148.91" fill="url(#g19)"/><polygon points="35.16,172.04 41.05,175.86 39.08,152.44 33.09,148.91" fill="url(#g20)"/><polygon points="41.05,175.86 50.04,172.17 48.27,149.03 39.08,152.44" fill="url(#g21)"/><polygon points="33.09,148.91 39.08,152.44 48.27,149.03 42.24,145.61" fill="rgb(250,32,32)"/><polygon points="75.95,168.16 82.38,171.85 90.60,168.28 88.20,108.03 81.44,105.21 72.77,107.93" fill="url(#g22)"/><polygon points="75.95,168.16 82.38,171.85 79.50,110.84 72.77,107.93" fill="url(#g23)"/><polygon points="82.38,171.85 90.60,168.28 88.20,108.03 79.50,110.84" fill="url(#g24)"/><polygon points="72.77,107.93 79.50,110.84 88.20,108.03 81.44,105.21" fill="rgb(35,250,35)"/><polygon points="115.43,164.40 122.36,167.98 129.86,164.51 129.47,81.71 122.03,79.30 113.98,81.62" fill="url(#g25)"/><polygon points="115.43,164.40 122.36,167.98 121.40,84.11 113.98,81.62" fill="url(#g26)"/><polygon points="122.36,167.98 129.86,164.51 129.47,81.71 121.40,84.11" fill="url(#g27)"/><polygon points="113.98,81.62 121.40,84.11 129.47,81.71 122.03,79.30" fill="rgb(30,30,245)"/><polygon points="153.66,160.75 161.06,164.22 167.88,160.87 168.72,131.92 161.13,128.90 154.14,131.81" fill="url(#g28)"/><polygon points="153.66,160.75 161.06,164.22 161.73,134.92 154.14,131.81" fill="url(#g29)"/><polygon points="161.06,164.22 167.88,160.87 168.72,131.92 161.73,134.92" fill="url(#g30)"/><polygon points="154.14,131.81 161.73,134.92 168.72,131.92 161.13,128.90" fill="rgb(30,250,250)"/><polygon points="47.65,180.14 53.95,184.22 63.03,180.27 61.71,159.99 55.27,156.29 46.05,159.87" fill="url(#g31)"/><polygon points="47.65,180.14 53.95,184.22 52.44,163.69 46.05,159.87" fill="url(#g32)"/><polygon points="53.95,184.22 63.03,180.27 61.71,159.99 52.44,163.69" fill="url(#g33)"/><polygon points="46.05,159.87 52.44,163.69 61.71,159.99 55.27,156.29" fill="rgb(250,32,32)"/><polygon points="89.58,175.99 96.44,179.94 104.72,176.12 102.62,99.61 95.30,96.80 86.45,99.51" fill="url(#g34)"/><polygon points="89.58,175.99 96.44,179.94 93.74,102.41 86.45,99.51" fill="url(#g35)"/><polygon points="96.44,179.94 104.72,176.12 102.62,99.61 93.74,102.41" fill="url(#g36)"/><polygon points="86.45,99.51 93.74,102.41 102.62,99.61 95.30,96.80" fill="rgb(35,250,35)"/><polygon points="130.11,171.98 137.51,175.79 145.02,172.10 145.56,110.91 137.75,108.00 129.84,110.81" fill="url(#g37)"/><polygon points="130.11,171.98 137.51,175.79 137.63,113.82 129.84,110.81" fill="url(#g38)"/><polygon points="137.51,175.79 145.02,172.10 145.56,110.91 137.63,113.82" fill="url(#g39)"/><polygon points="129.84,110.81 137.63,113.82 145.56,110.91 137.75,108.00" fill="rgb(30,30,245)"/><polygon points="169.33,168.10 177.21,171.79 184.01,168.22 185.60,131.64 177.46,128.51 170.44,131.53" fill="url(#g40)"/><polygon points="169.33,168.10 177.21,171.79 178.60,134.76 170.44,131.53" fill="url(#g41)"/><polygon points="177.21,171.79 184.01,168.22 185.60,131.64 178.60,134.76" fill="url(#g42)"/><polygon points="170.44,131.53 178.60,134.76 185.60,131.64 177.46,128.51" fill="rgb(30,250,250)"/><polygon points="61.01,188.80 67.76,193.18 76.93,188.94 75.89,169.28 69.00,165.29 59.69,169.14" fill="url(#g43)"/><polygon points="61.01,188.80 67.76,193.18 66.54,173.26 59.69,169.14" fill="url(#g44)"/><polygon points="67.76,193.18 76.93,188.94 75.89,169.28 66.54,173.26" fill="url(#g45)"/><polygon points="59.69,169.14 66.54,173.26 75.89,169.28 69.00,165.29" fill="rgb(250,32,32)"/><polygon points="104.14,184.36 111.48,188.58 119.80,184.50 119.21,142.44 111.58,138.90 102.96,142.32" fill="url(#g46)"/><polygon points="104.14,184.36 111.48,188.58 110.57,145.98 102.96,142.32" fill="url(#g47)"/><polygon points="111.48,188.58 119.80,184.50 119.21,142.44 110.57,145.98" fill="url(#g48)"/><polygon points="102.96,142.32 110.57,145.98 119.21,142.44 111.58,138.90" fill="rgb(35,250,35)"/><polygon points="145.79,180.07 153.69,184.15 161.20,180.20 161.87,151.80 153.76,148.21 146.06,151.68" fill="url(#g49)"/><polygon points="145.79,180.07 153.69,184.15 154.17,155.38 146.06,151.68" fill="url(#g50)"/><polygon points="153.69,184.15 161.20,180.20 161.87,151.80 154.17,155.38" fill="url(#g51)"/><polygon points="146.06,151.68 154.17,155.38 161.87,151.80 153.76,148.21" fill="rgb(30,30,245)"/><polygon points="186.03,175.92 194.45,179.86 201.21,176.05 201.98,163.06 193.48,159.40 186.62,162.94" fill="url(#g52)"/><polygon points="186.03,175.92 194.45,179.86 195.15,166.72 186.62,162.94" fill="url(#g53)"/><polygon points="194.45,179.86 201.21,176.05 201.98,163.06 195.15,166.72" fill="url(#g54)"/><polygon points="186.62,162.94 195.15,166.72 201.98,163.06 193.48,159.40" fill="rgb(30,250,250)"/><polygon points="75.33,198.09 82.58,202.78 91.84,198.24 91.47,189.12 84.13,184.70 74.83,188.97" fill="url(#g55)"/><polygon points="75.33,198.09 82.58,202.78 82.13,193.55 74.83,188.97" fill="url(#g56)"/><polygon points="82.58,202.78 91.84,198.24 91.47,189.12 82.13,193.55" fill="url(#g57)"/><polygon points="74.83,188.97 82.13,193.55 91.47,189.12 84.13,184.70" fill="rgb(250,32,32)"/><polygon points="119.73,193.32 127.61,197.85 135.95,193.46 135.98,149.29 127.78,145.50 119.10,149.16" fill="url(#g58)"/><polygon points="119.73,193.32 127.61,197.85 127.29,153.08 119.10,149.16" fill="url(#g59)"/><polygon points="127.61,197.85 135.95,193.46 135.98,149.29 127.29,153.08" fill="url(#g60)"/><polygon points="119.10,149.16 127.29,153.08 135.98,149.29 127.78,145.50" fill="rgb(35,250,35)"/><polygon points="162.54,188.72 171.01,193.09 178.50,188.86 179.00,176.27 170.44,172.20 162.86,176.13" fill="url(#g61)"/><polygon points="162.54,188.72 171.01,193.09 171.43,180.34 162.86,176.13" fill="url(#g62)"/><polygon points="171.01,193.09 178.50,188.86 179.00,176.27 171.43,180.34" fill="url(#g63)"/><polygon points="162.86,176.13 171.43,180.34 179.00,176.27 170.44,172.20" fill="rgb(30,30,245)"/><polygon points="203.87,184.28 212.88,188.50 219.58,184.42 221.46,159.74 212.26,155.97 205.41,159.62" fill="url(#g64)"/><polygon points="203.87,184.28 212.88,188.50 214.64,163.51 205.41,159.62" fill="url(#g65)"/><polygon points="212.88,188.50 219.58,184.42 221.46,159.74 214.64,163.51" fill="url(#g66)"/><polygon points="205.41,159.62 214.64,163.51 221.46,159.74 212.26,155.97" fill="rgb(30,250,250)"/><polygon points="90.73,208.06 98.53,213.12 107.85,208.23 107.09,177.97 99.05,173.50 89.48,177.82" fill="url(#g67)"/><polygon points="90.73,208.06 98.53,213.12 97.49,182.46 89.48,177.82" fill="url(#g68)"/><polygon points="98.53,213.12 107.85,208.23 107.09,177.97 97.49,182.46" fill="url(#g69)"/><polygon points="89.48,177.82 97.49,182.46 107.09,177.97 99.05,173.50" fill="rgb(250,32,32)"/><polygon points="136.46,202.94 144.93,207.81 153.29,203.09 153.51,189.83 144.92,185.30 136.47,189.68" fill="url(#g70)"/><polygon points="136.46,202.94 144.93,207.81 145.05,194.37 136.47,189.68" fill="url(#g71)"/><polygon points="144.93,207.81 153.29,203.09 153.51,189.83 145.05,194.37" fill="url(#g72)"/><polygon points="136.47,189.68 145.05,194.37 153.51,189.83 144.92,185.30" fill="rgb(35,250,35)"/><polygon points="180.51,197.99 189.60,202.69 197.05,198.15 198.62,170.57 189.30,166.40 181.65,170.43" fill="url(#g73)"/><polygon points="180.51,197.99 189.60,202.69 191.00,174.74 181.65,170.43" fill="url(#g74)"/><polygon points="189.60,202.69 197.05,198.15 198.62,170.57 191.00,174.74" fill="url(#g75)"/><polygon points="181.65,170.43 191.00,174.74 198.62,170.57 189.30,166.40" fill="rgb(30,30,245)"/><polygon points="107.31,218.82 115.74,224.28 125.11,218.99 125.04,211.26 116.53,206.10 107.11,211.09" fill="url(#g76)"/><polygon points="107.31,218.82 115.74,224.28 115.60,216.45 107.11,211.09" fill="url(#g77)"/><polygon points="115.74,224.28 125.11,218.99 125.04,211.26 115.60,216.45" fill="url(#g78)"/><polygon points="107.11,211.09 115.60,216.45 125.04,211.26 116.53,206.10" fill="rgb(250,32,32)"/><polygon points="154.46,213.28 163.60,218.54 171.94,213.45 172.90,185.27 163.52,180.59 154.97,185.12" fill="url(#g79)"/><polygon points="154.46,213.28 163.60,218.54 164.36,189.97 154.97,185.12" fill="url(#g80)"/><polygon points="163.60,218.54 171.94,213.45 172.90,185.27 164.36,189.97" fill="url(#g81)"/><polygon points="154.97,185.12 164.36,189.97 172.90,185.27 163.52,180.59" fill="rgb(35,250,35)"/><polygon points="125.24,230.44 134.37,236.36 143.77,230.62 143.85,220.36 134.62,214.80 125.14,220.17" fill="url(#g82)"/><polygon points="125.24,230.44 134.37,236.36 134.36,225.95 125.14,220.17" fill="url(#g83)"/><polygon points="134.37,236.36 143.77,230.62 143.85,220.36 134.36,225.95" fill="url(#g84)"/><polygon points="125.14,220.17 134.36,225.95 143.85,220.36 134.62,214.80" fill="rgb(250,32,32)"/><line x1="21.75" y1="174.10" x2="128.49" y2="246.49" class="ax"/><line x1="128.49" y1="246.49" x2="241.81" y2="175.95" class="ax"/><line x1="241.81" y1="175.95" x2="256.51" y2="22.23" class="ax"/><line x1="27.72" y1="178.15" x2="24.04" y2="179.64" class="tk"/><line x1="40.28" y1="186.67" x2="36.55" y2="188.27" class="tk"/><line x1="53.74" y1="195.80" x2="49.97" y2="197.52" class="tk"/><line x1="68.20" y1="205.60" x2="64.38" y2="207.45" class="tk"/><line x1="83.77" y1="216.16" x2="79.91" y2="218.16" class="tk"/><line x1="100.58" y1="227.57" x2="96.69" y2="229.73" class="tk"/><line x1="118.80" y1="239.92" x2="114.88" y2="242.26" class="tk"/><line x1="144.21" y1="236.70" x2="147.40" y2="238.73" class="tk"/><line x1="172.90" y1="218.85" x2="176.08" y2="220.64" class="tk"/><line x1="198.41" y1="202.97" x2="201.57" y2="204.57" class="tk"/><line x1="221.25" y1="188.75" x2="224.37" y2="190.19" class="tk"/><line x1="241.81" y1="175.95" x2="244.49" y2="177.09" class="tk"/><line x1="243.26" y1="160.74" x2="245.99" y2="161.82" class="tk"/><line x1="244.76" y1="145.10" x2="247.53" y2="146.12" class="tk"/><line x1="246.30" y1="129.03" x2="249.12" y2="129.98" class="tk"/><line x1="247.88" y1="112.49" x2="250.74" y2="113.38" class="tk"/><line x1="249.50" y1="95.48" x2="252.42" y2="96.30" class="tk"/><line x1="251.18" y1="77.98" x2="254.15" y2="78.72" class="tk"/><line x1="252.90" y1="59.95" x2="255.92" y2="60.61" class="tk"/><line x1="254.68" y1="41.38" x2="257.76" y2="41.95" class="tk"/><line x1="256.51" y1="22.23" x2="259.64" y2="22.72" class="tk"/><line x1="242.53" y1="168.40" x2="244.87" y2="166.98" class="tk"/><line x1="244.01" y1="152.97" x2="246.37" y2="151.63" class="tk"/><line x1="245.52" y1="137.12" x2="247.91" y2="135.86" class="tk"/><line x1="247.08" y1="120.82" x2="249.49" y2="119.64" class="tk"/><line x1="248.68" y1="104.05" x2="251.12" y2="102.96" class="tk"/><line x1="250.33" y1="86.79" x2="252.79" y2="85.80" class="tk"/><line x1="252.03" y1="69.03" x2="254.52" y2="68.14" class="tk"/><line x1="253.78" y1="50.73" x2="256.29" y2="49.95" class="tk"/><line x1="255.59" y1="31.88" x2="258.12" y2="31.21" class="tk"/></g>
<g id="pb"><line x1="359.11" y1="178.41" x2="352.68" y2="27.74" class="gw"/><line x1="359.11" y1="178.41" x2="474.82" y2="239.52" class="gf"/><line x1="385.55" y1="167.07" x2="381.54" y2="20.69" class="gw"/><line x1="385.55" y1="167.07" x2="500.94" y2="224.23" class="gf"/><line x1="410.35" y1="156.43" x2="408.46" y2="14.11" class="gw"/><line x1="410.35" y1="156.43" x2="525.20" y2="210.03" class="gf"/><line x1="433.65" y1="146.43" x2="433.63" y2="7.96" class="gw"/><line x1="433.65" y1="146.43" x2="547.79" y2="196.80" class="gf"/><line x1="462.78" y1="140.03" x2="464.97" y2="4.21" class="gw"/><line x1="352.43" y1="188.31" x2="462.78" y2="140.03" class="gf"/><line x1="477.55" y1="146.21" x2="480.92" y2="8.33" class="gw"/><line x1="367.29" y1="196.43" x2="477.55" y2="146.21" class="gf"/><line x1="492.84" y1="152.61" x2="497.47" y2="12.61" class="gw"/><line x1="382.76" y1="204.88" x2="492.84" y2="152.61" class="gf"/><line x1="508.67" y1="159.24" x2="514.67" y2="17.06" class="gw"/><line x1="398.88" y1="213.68" x2="508.67" y2="159.24" class="gf"/><line x1="525.09" y1="166.12" x2="532.55" y2="21.68" class="gw"/><line x1="415.68" y1="222.86" x2="525.09" y2="166.12" class="gf"/><line x1="542.12" y1="173.25" x2="551.15" y2="26.49" class="gw"/><line x1="433.22" y1="232.43" x2="542.12" y2="173.25" class="gf"/><line x1="559.79" y1="180.65" x2="570.51" y2="31.49" class="gw"/><line x1="451.53" y1="242.44" x2="559.79" y2="180.65" class="gf"/><line x1="343.77" y1="155.79" x2="455.89" y2="111.58" class="gw"/><line x1="455.89" y1="111.58" x2="571.06" y2="156.32" class="gw"/><line x1="342.27" y1="126.26" x2="456.21" y2="85.41" class="gw"/><line x1="456.21" y1="85.41" x2="573.30" y2="127.26" class="gw"/><line x1="340.72" y1="95.73" x2="456.53" y2="58.49" class="gw"/><line x1="456.53" y1="58.49" x2="575.62" y2="97.23" class="gw"/><line x1="339.12" y1="64.15" x2="456.87" y2="30.76" class="gw"/><line x1="456.87" y1="30.76" x2="578.02" y2="66.19" class="gw"/><line x1="337.46" y1="31.46" x2="457.21" y2="2.20" class="gw"/><line x1="457.21" y1="2.20" x2="580.50" y2="34.08" class="gw"/><line x1="345.22" y1="184.37" x2="337.46" y2="31.46" class="ed"/><line x1="337.46" y1="31.46" x2="457.21" y2="2.20" class="ed"/><line x1="457.21" y1="2.20" x2="580.50" y2="34.08" class="ed"/><line x1="345.22" y1="184.37" x2="455.59" y2="137.01" class="gf2"/><line x1="455.59" y1="137.01" x2="568.88" y2="184.45" class="bkl"/><line x1="455.59" y1="137.01" x2="457.21" y2="2.20" class="bkd"/><polygon points="433.89,149.60 440.88,152.71 447.85,149.63 448.46,71.40 441.16,68.89 433.88,71.28" fill="url(#g85)"/><polygon points="433.89,149.60 440.88,152.71 441.19,73.84 433.88,71.28" fill="url(#g86)"/><polygon points="440.88,152.71 447.85,149.63 448.46,71.40 441.19,73.84" fill="url(#g87)"/><polygon points="433.88,71.28 441.19,73.84 448.46,71.40 441.16,68.89" fill="rgb(30,250,250)"/><polygon points="410.37,159.79 417.38,163.09 424.79,159.82 424.45,93.78 417.19,91.00 409.49,93.68" fill="url(#g88)"/><polygon points="410.37,159.79 417.38,163.09 416.76,96.50 409.49,93.68" fill="url(#g89)"/><polygon points="417.38,163.09 424.79,159.82 424.45,93.78 416.76,96.50" fill="url(#g90)"/><polygon points="409.49,93.68 416.76,96.50 424.45,93.78 417.19,91.00" fill="rgb(30,30,245)"/><polygon points="448.60,156.14 455.85,159.37 462.80,156.18 464.01,81.74 456.45,79.10 449.22,81.63" fill="url(#g91)"/><polygon points="448.60,156.14 455.85,159.37 456.78,84.32 449.22,81.63" fill="url(#g92)"/><polygon points="455.85,159.37 462.80,156.18 464.01,81.74 456.78,84.32" fill="url(#g93)"/><polygon points="449.22,81.63 456.78,84.32 464.01,81.74 456.45,79.10" fill="rgb(30,250,250)"/><polygon points="385.33,170.64 392.34,174.15 400.24,170.66 397.65,35.11 390.12,32.70 381.58,34.94" fill="url(#g94)"/><polygon points="385.33,170.64 392.34,174.15 389.11,37.39 381.58,34.94" fill="url(#g95)"/><polygon points="392.34,174.15 400.24,170.66 397.65,35.11 389.11,37.39" fill="url(#g96)"/><polygon points="381.58,34.94 389.11,37.39 397.65,35.11 390.12,32.70" fill="rgb(35,250,35)"/><polygon points="425.12,166.74 432.39,170.16 439.79,166.76 440.14,60.98 432.44,58.40 424.59,60.84" fill="url(#g97)"/><polygon points="425.12,166.74 432.39,170.16 432.30,63.47 424.59,60.84" fill="url(#g98)"/><polygon points="432.39,170.16 439.79,166.76 440.14,60.98 432.30,63.47" fill="url(#g99)"/><polygon points="424.59,60.84 432.30,63.47 440.14,60.98 432.44,58.40" fill="rgb(30,30,245)"/><polygon points="463.85,162.93 471.37,166.28 478.29,162.96 479.10,130.66 471.45,127.60 464.40,130.60" fill="url(#g100)"/><polygon points="463.85,162.93 471.37,166.28 472.06,133.72 464.40,130.60" fill="url(#g101)"/><polygon points="471.37,166.28 478.29,162.96 479.10,130.66 472.06,133.72" fill="url(#g102)"/><polygon points="464.40,130.60 472.06,133.72 479.10,130.66 471.45,127.60" fill="rgb(30,250,250)"/><polygon points="358.61,182.22 365.61,185.96 374.05,182.23 373.34,161.51 366.26,158.00 357.72,161.48" fill="url(#g103)"/><polygon points="358.61,182.22 365.61,185.96 364.79,165.07 357.72,161.48" fill="url(#g104)"/><polygon points="365.61,185.96 374.05,182.23 373.34,161.51 364.79,165.07" fill="url(#g105)"/><polygon points="357.72,161.48 364.79,165.07 373.34,161.51 366.26,158.00" fill="rgb(250,32,32)"/><polygon points="400.09,178.02 407.37,181.67 415.27,178.04 414.40,96.17 406.79,93.20 398.51,96.06" fill="url(#g106)"/><polygon points="400.09,178.02 407.37,181.67 406.12,99.09 398.51,96.06" fill="url(#g107)"/><polygon points="407.37,181.67 415.27,178.04 414.40,96.17 406.12,99.09" fill="url(#g108)"/><polygon points="398.51,96.06 406.12,99.09 414.40,96.17 406.79,93.20" fill="rgb(35,250,35)"/><polygon points="440.42,173.94 447.98,177.50 455.36,173.96 455.94,125.84 448.19,122.70 440.60,125.78" fill="url(#g109)"/><polygon points="440.42,173.94 447.98,177.50 448.37,128.98 440.60,125.78" fill="url(#g110)"/><polygon points="447.98,177.50 455.36,173.96 455.94,125.84 448.37,128.98" fill="url(#g111)"/><polygon points="440.60,125.78 448.37,128.98 455.94,125.84 448.19,122.70" fill="rgb(30,30,245)"/><polygon points="479.67,169.97 487.47,173.44 494.36,169.99 494.74,158.80 486.90,155.47 479.96,158.77" fill="url(#g112)"/><polygon points="479.67,169.97 487.47,173.44 487.81,162.16 479.96,158.77" fill="url(#g113)"/><polygon points="487.47,173.44 494.36,169.99 494.74,158.80 487.81,162.16" fill="url(#g114)"/><polygon points="479.96,158.77 487.81,162.16 494.74,158.80 486.90,155.47" fill="rgb(30,250,250)"/><polygon points="373.35,190.09 380.63,193.97 389.08,190.09 388.20,155.95 380.78,152.40 372.16,155.92" fill="url(#g115)"/><polygon points="373.35,190.09 380.63,193.97 379.57,159.55 372.16,155.92" fill="url(#g116)"/><polygon points="380.63,193.97 389.08,190.09 388.20,155.95 379.57,159.55" fill="url(#g117)"/><polygon points="372.16,155.92 379.57,159.55 388.20,155.95 380.78,152.40" fill="rgb(250,32,32)"/><polygon points="415.42,185.69 423.00,189.48 430.88,185.70 430.81,144.71 423.07,141.30 414.99,144.66" fill="url(#g118)"/><polygon points="415.42,185.69 423.00,189.48 422.74,148.15 414.99,144.66" fill="url(#g119)"/><polygon points="423.00,189.48 430.88,185.70 430.81,144.71 422.74,148.15" fill="url(#g120)"/><polygon points="414.99,144.66 422.74,148.15 430.81,144.71 423.07,141.30" fill="rgb(35,250,35)"/><polygon points="456.32,181.43 464.16,185.12 471.52,181.43 472.08,155.40 464.12,151.97 456.65,155.37" fill="url(#g121)"/><polygon points="456.32,181.43 464.16,185.12 464.62,158.87 456.65,155.37" fill="url(#g122)"/><polygon points="464.16,185.12 471.52,181.43 472.08,155.40 464.62,158.87" fill="url(#g123)"/><polygon points="456.65,155.37 464.62,158.87 472.08,155.40 464.12,151.97" fill="rgb(30,30,245)"/><polygon points="496.08,177.28 504.18,180.88 511.03,177.29 513.01,132.31 504.70,129.10 497.68,132.25" fill="url(#g124)"/><polygon points="496.08,177.28 504.18,180.88 506.00,135.53 497.68,132.25" fill="url(#g125)"/><polygon points="504.18,180.88 511.03,177.29 513.01,132.31 506.00,135.53" fill="url(#g126)"/><polygon points="497.68,132.25 506.00,135.53 513.01,132.31 504.70,129.10" fill="rgb(30,250,250)"/><polygon points="388.68,198.27 396.26,202.31 404.71,198.26 404.47,184.26 396.83,180.40 388.31,184.25" fill="url(#g127)"/><polygon points="388.68,198.27 396.26,202.31 395.95,188.19 388.31,184.25" fill="url(#g128)"/><polygon points="396.26,202.31 404.71,198.26 404.47,184.26 395.95,188.19" fill="url(#g129)"/><polygon points="388.31,184.25 395.95,188.19 404.47,184.26 396.83,180.40" fill="rgb(250,32,32)"/><polygon points="431.36,193.67 439.24,197.61 447.11,193.66 447.24,176.84 439.29,173.10 431.34,176.82" fill="url(#g130)"/><polygon points="431.36,193.67 439.24,197.61 439.29,180.64 431.34,176.82" fill="url(#g131)"/><polygon points="439.24,197.61 447.11,193.66 447.24,176.84 439.29,180.64" fill="url(#g132)"/><polygon points="431.34,176.82 439.29,180.64 447.24,176.84 439.29,173.10" fill="rgb(35,250,35)"/><polygon points="472.83,189.20 480.99,193.04 488.31,189.20 489.46,152.49 481.13,149.00 473.65,152.45" fill="url(#g133)"/><polygon points="472.83,189.20 480.99,193.04 481.99,156.02 473.65,152.45" fill="url(#g134)"/><polygon points="480.99,193.04 488.31,189.20 489.46,152.49 481.99,156.02" fill="url(#g135)"/><polygon points="473.65,152.45 481.99,156.02 489.46,152.49 481.13,149.00" fill="rgb(30,30,245)"/><polygon points="513.13,184.86 521.54,188.61 528.35,184.87 529.00,172.89 520.54,169.30 513.67,172.87" fill="url(#g136)"/><polygon points="513.13,184.86 521.54,188.61 522.15,176.53 513.67,172.87" fill="url(#g137)"/><polygon points="521.54,188.61 528.35,184.87 529.00,172.89 522.15,176.53" fill="url(#g138)"/><polygon points="513.67,172.87 522.15,176.53 529.00,172.89 520.54,169.30" fill="rgb(30,250,250)"/><polygon points="404.64,206.78 412.53,210.99 420.98,206.76 420.95,203.60 413.05,199.50 404.58,203.62" fill="url(#g139)"/><polygon points="404.64,206.78 412.53,210.99 412.49,207.81 404.58,203.62" fill="url(#g140)"/><polygon points="412.53,210.99 420.98,206.76 420.95,203.60 412.49,207.81" fill="url(#g141)"/><polygon points="404.58,203.62 412.49,207.81 420.95,203.60 413.05,199.50" fill="rgb(250,32,32)"/><polygon points="447.95,201.96 456.15,206.07 464.00,201.95 464.98,145.59 456.52,142.00 448.41,145.54" fill="url(#g142)"/><polygon points="447.95,201.96 456.15,206.07 456.88,149.20 448.41,145.54" fill="url(#g143)"/><polygon points="456.15,206.07 464.00,201.95 464.98,145.59 456.88,149.20" fill="url(#g144)"/><polygon points="448.41,145.54 456.88,149.20 464.98,145.59 456.52,142.00" fill="rgb(35,250,35)"/><polygon points="490.00,197.29 498.49,201.29 505.77,197.28 506.29,184.73 497.76,180.90 490.41,184.72" fill="url(#g145)"/><polygon points="490.00,197.29 498.49,201.29 498.96,188.62 490.41,184.72" fill="url(#g146)"/><polygon points="498.49,201.29 505.77,197.28 506.29,184.73 498.96,188.62" fill="url(#g147)"/><polygon points="490.41,184.72 498.96,188.62 506.29,184.73 497.76,180.90" fill="rgb(30,30,245)"/><polygon points="530.84,192.75 539.60,196.64 546.34,192.74 547.54,174.18 538.72,170.50 531.88,174.16" fill="url(#g148)"/><polygon points="530.84,192.75 539.60,196.64 540.74,177.92 531.88,174.16" fill="url(#g149)"/><polygon points="539.60,196.64 546.34,192.74 547.54,174.18 540.74,177.92" fill="url(#g150)"/><polygon points="531.88,174.16 540.74,177.92 547.54,174.18 538.72,170.50" fill="rgb(30,250,250)"/><polygon points="421.26,215.65 429.50,220.04 437.93,215.62 438.01,179.42 429.62,175.40 421.00,179.41" fill="url(#g151)"/><polygon points="421.26,215.65 429.50,220.04 429.40,183.52 421.00,179.41" fill="url(#g152)"/><polygon points="429.50,220.04 437.93,215.62 438.01,179.42 429.40,183.52" fill="url(#g153)"/><polygon points="421.00,179.41 429.40,183.52 438.01,179.42 429.62,175.40" fill="rgb(250,32,32)"/><polygon points="465.22,210.60 473.77,214.88 481.58,210.58 481.95,197.29 473.35,193.20 465.46,197.29" fill="url(#g154)"/><polygon points="465.22,210.60 473.77,214.88 474.08,201.47 465.46,197.29" fill="url(#g155)"/><polygon points="473.77,214.88 481.58,210.58 481.95,197.29 474.08,201.47" fill="url(#g156)"/><polygon points="465.46,197.29 474.08,201.47 481.95,197.29 473.35,193.20" fill="rgb(35,250,35)"/><polygon points="507.87,205.70 516.71,209.87 523.94,205.69 525.02,185.02 516.09,181.10 508.76,185.02" fill="url(#g157)"/><polygon points="507.87,205.70 516.71,209.87 517.71,189.02 508.76,185.02" fill="url(#g158)"/><polygon points="516.71,209.87 523.94,205.69 525.02,185.02 517.71,189.02" fill="url(#g159)"/><polygon points="508.76,185.02 517.71,189.02 525.02,185.02 516.09,181.10" fill="rgb(30,30,245)"/><polygon points="438.60,224.90 447.19,229.49 455.60,224.86 455.72,215.62 447.10,211.20 438.63,215.65" fill="url(#g160)"/><polygon points="438.60,224.90 447.19,229.49 447.27,220.16 438.63,215.65" fill="url(#g161)"/><polygon points="447.19,229.49 455.60,224.86 455.72,215.62 447.27,220.16" fill="url(#g162)"/><polygon points="438.63,215.65 447.27,220.16 455.72,215.62 447.10,211.20" fill="rgb(250,32,32)"/><polygon points="483.22,219.61 492.13,224.06 499.91,219.57 500.73,198.10 491.73,193.90 483.84,198.11" fill="url(#g163)"/><polygon points="483.22,219.61 492.13,224.06 492.87,202.40 483.84,198.11" fill="url(#g164)"/><polygon points="492.13,224.06 499.91,219.57 500.73,198.10 492.87,202.40" fill="url(#g165)"/><polygon points="483.84,198.11 492.87,202.40 500.73,198.10 491.73,193.90" fill="rgb(35,250,35)"/><polygon points="456.70,234.56 465.68,239.35 474.05,234.51 474.23,227.12 465.23,222.50 456.80,227.17" fill="url(#g166)"/><polygon points="456.70,234.56 465.68,239.35 465.82,231.90 456.80,227.17" fill="url(#g167)"/><polygon points="465.68,239.35 474.05,234.51 474.23,227.12 465.82,231.90" fill="url(#g168)"/><polygon points="456.80,227.17 465.82,231.90 474.23,227.12 465.23,222.50" fill="rgb(250,32,32)"/><line x1="345.22" y1="184.37" x2="461.00" y2="247.61" class="ax"/><line x1="461.00" y1="247.61" x2="568.88" y2="184.45" class="ax"/><line x1="568.88" y1="184.45" x2="580.50" y2="34.08" class="ax"/><line x1="352.43" y1="188.31" x2="349.02" y2="189.80" class="tk"/><line x1="367.29" y1="196.43" x2="363.88" y2="197.98" class="tk"/><line x1="382.76" y1="204.88" x2="379.34" y2="206.50" class="tk"/><line x1="398.88" y1="213.68" x2="395.46" y2="215.37" class="tk"/><line x1="415.68" y1="222.86" x2="412.26" y2="224.63" class="tk"/><line x1="433.22" y1="232.43" x2="429.80" y2="234.29" class="tk"/><line x1="451.53" y1="242.44" x2="448.13" y2="244.38" class="tk"/><line x1="474.82" y1="239.52" x2="477.89" y2="241.14" class="tk"/><line x1="500.94" y1="224.23" x2="503.98" y2="225.74" class="tk"/><line x1="525.20" y1="210.03" x2="528.21" y2="211.44" class="tk"/><line x1="547.79" y1="196.80" x2="550.77" y2="198.12" class="tk"/><line x1="568.88" y1="184.45" x2="571.46" y2="185.53" class="tk"/><line x1="571.06" y1="156.32" x2="573.68" y2="157.34" class="tk"/><line x1="573.30" y1="127.26" x2="575.98" y2="128.21" class="tk"/><line x1="575.62" y1="97.23" x2="578.35" y2="98.12" class="tk"/><line x1="578.02" y1="66.19" x2="580.80" y2="67.00" class="tk"/><line x1="580.50" y1="34.08" x2="583.33" y2="34.81" class="tk"/><line x1="569.96" y1="170.50" x2="572.41" y2="169.12" class="tk"/><line x1="572.17" y1="141.90" x2="574.65" y2="140.62" class="tk"/><line x1="574.45" y1="112.37" x2="576.97" y2="111.18" class="tk"/><line x1="576.81" y1="81.84" x2="579.36" y2="80.76" class="tk"/><line x1="579.25" y1="50.27" x2="581.83" y2="49.31" class="tk"/></g>
<text transform="matrix(0.8803 -0.3576 0.6102 0.4253 21.56 180.65)" font-size="10" text-anchor="end" x="3.05" y="4.00">Ag-Sb</text>
<text transform="matrix(0.8924 -0.3830 0.6535 0.4554 34.04 189.35)" font-size="10" text-anchor="end" x="2.99" y="4.00">Pt-Pb</text>
<text transform="matrix(0.9040 -0.4112 0.7015 0.4889 47.42 198.68)" font-size="10" text-anchor="end" x="2.92" y="4.00">Ag-Bi</text>
<text transform="matrix(0.9149 -0.4427 0.7550 0.5262 61.80 208.70)" font-size="10" text-anchor="end" x="2.85" y="4.00">Cu-Pb</text>
<text transform="matrix(0.9247 -0.4779 0.8149 0.5680 77.31 219.50)" font-size="10" text-anchor="end" x="2.79" y="4.00">Pd-Pb</text>
<text transform="matrix(0.9332 -0.5174 0.8823 0.6149 94.06 231.18)" font-size="10" text-anchor="end" x="2.72" y="4.00">Au-Pb</text>
<text transform="matrix(0.9398 -0.5620 0.9583 0.6679 112.23 243.85)" font-size="10" text-anchor="end" x="2.65" y="4.00">Ag-Pb</text>
<text transform="matrix(0.9472 0.6021 -0.9208 0.5827 148.21 239.25)" font-size="10" text-anchor="start" x="0.00" y="3.30">M-MIVM</text>
<text transform="matrix(0.9440 0.5332 -0.8153 0.5159 176.88 221.10)" font-size="10" text-anchor="start" x="0.00" y="3.30">MIVM</text>
<text transform="matrix(0.9356 0.4755 -0.7269 0.4600 202.36 204.97)" font-size="10" text-anchor="start" x="0.00" y="3.30">Wilson</text>
<text transform="matrix(0.9236 0.4267 -0.6521 0.4127 225.15 190.55)" font-size="10" text-anchor="start" x="0.00" y="3.30">NRTL</text>
<text transform="translate(246.31 179.25) rotate(16.00) skewX(-1.00) scale(0.880 0.850)" font-size="11.5" text-anchor="start" y="3.80">0.00</text>
<text transform="translate(247.89 163.85) rotate(14.89) skewX(-1.00) scale(0.880 0.872)" font-size="11.5" text-anchor="start" y="3.80">0.01</text>
<text transform="translate(249.50 148.02) rotate(13.78) skewX(-1.00) scale(0.880 0.894)" font-size="11.5" text-anchor="start" y="3.80">0.02</text>
<text transform="translate(251.16 131.76) rotate(12.67) skewX(-1.00) scale(0.880 0.917)" font-size="11.5" text-anchor="start" y="3.80">0.03</text>
<text transform="translate(252.86 115.04) rotate(11.56) skewX(-1.00) scale(0.880 0.939)" font-size="11.5" text-anchor="start" y="3.80">0.04</text>
<text transform="translate(254.61 97.84) rotate(10.44) skewX(-1.00) scale(0.880 0.961)" font-size="11.5" text-anchor="start" y="3.80">0.05</text>
<text transform="translate(256.41 80.14) rotate(9.33) skewX(-1.00) scale(0.880 0.983)" font-size="11.5" text-anchor="start" y="3.80">0.06</text>
<text transform="translate(258.26 61.93) rotate(8.22) skewX(-1.00) scale(0.880 1.006)" font-size="11.5" text-anchor="start" y="3.80">0.07</text>
<text transform="translate(260.15 43.16) rotate(7.11) skewX(-1.00) scale(0.880 1.028)" font-size="11.5" text-anchor="start" y="3.80">0.08</text>
<text transform="translate(262.11 23.83) rotate(6.00) skewX(-1.00) scale(0.880 1.050)" font-size="11.5" text-anchor="start" y="3.80">0.09</text>
<text x='18' y='40' font-size='14'>(a)</text>
<text transform="matrix(0.7922 0.6330 -1.2536 0.6125 32.30 225.80)" font-size="10" text-anchor="middle" x="0.00" y="3.30">Alloy Systems</text>
<text transform='translate(280 108.3) rotate(-90)' font-size='12.5' text-anchor='middle' y='3.8'><tspan font-style='italic'>S</tspan><tspan dx='0.8' dy='-2.6' font-size='10'>*</tspan></text>
<text transform="matrix(0.8638 -0.3779 0.9580 0.5291 347.88 190.30)" font-size="10" text-anchor="end" x="0.00" y="3.30">Ag-Sb</text>
<text transform="matrix(0.8655 -0.3942 0.9970 0.5506 362.73 198.50)" font-size="10" text-anchor="end" x="0.00" y="3.30">Pt-Pb</text>
<text transform="matrix(0.8667 -0.4115 1.0384 0.5735 378.20 207.04)" font-size="10" text-anchor="end" x="0.00" y="3.30">Ag-Bi</text>
<text transform="matrix(0.8672 -0.4299 1.0825 0.5979 394.31 215.94)" font-size="10" text-anchor="end" x="0.00" y="3.30">Cu-Pb</text>
<text transform="matrix(0.8669 -0.4496 1.1295 0.6238 411.12 225.22)" font-size="10" text-anchor="end" x="0.00" y="3.30">Pd-Pb</text>
<text transform="matrix(0.8658 -0.4706 1.1796 0.6515 428.66 234.91)" font-size="10" text-anchor="end" x="0.00" y="3.30">Au-Pb</text>
<text transform="matrix(0.8637 -0.4930 1.2331 0.6810 446.99 245.03)" font-size="10" text-anchor="end" x="0.00" y="3.30">Ag-Pb</text>
<text transform="matrix(1.0207 0.5390 -0.9229 0.5459 478.66 241.54)" font-size="10" text-anchor="start" x="0.00" y="3.30">M-MIVM</text>
<text transform="matrix(1.0125 0.5016 -0.8559 0.5062 504.74 226.12)" font-size="10" text-anchor="start" x="0.00" y="3.30">MIVM</text>
<text transform="matrix(1.0028 0.4680 -0.7958 0.4707 528.97 211.79)" font-size="10" text-anchor="start" x="0.00" y="3.30">Wilson</text>
<text transform="matrix(0.9920 0.4378 -0.7419 0.4388 551.52 198.45)" font-size="10" text-anchor="start" x="0.00" y="3.30">NRTL</text>
<text transform="translate(573.38 188.25) rotate(4.00) skewX(0.00) scale(0.780 0.900)" font-size="13.5" text-anchor="start" y="4.46">0</text>
<text transform="translate(575.78 159.96) rotate(3.20) skewX(0.00) scale(0.780 0.920)" font-size="13.5" text-anchor="start" y="4.46">5</text>
<text transform="translate(578.24 130.74) rotate(2.40) skewX(0.00) scale(0.780 0.940)" font-size="13.5" text-anchor="start" y="4.46">10</text>
<text transform="translate(580.78 100.55) rotate(1.60) skewX(0.00) scale(0.780 0.960)" font-size="13.5" text-anchor="start" y="4.46">15</text>
<text transform="translate(583.40 69.35) rotate(0.80) skewX(0.00) scale(0.780 0.980)" font-size="13.5" text-anchor="start" y="4.46">20</text>
<text transform="translate(586.10 37.08) rotate(0.00) skewX(0.00) scale(0.780 1.000)" font-size="13.5" text-anchor="start" y="4.46">25</text>
<text x='347.3' y='55.5' font-size='14'>(b)</text>
<text transform="matrix(0.8884 0.5327 -1.0837 0.5385 361.31 233.20)" font-size="10" text-anchor="middle" x="0.00" y="3.30">Alloy Systems</text>
<text transform='translate(595 120.5) rotate(-90)' font-size='11' text-anchor='middle' y='3.5' font-style='italic'>S%</text>
</svg></body></html>
